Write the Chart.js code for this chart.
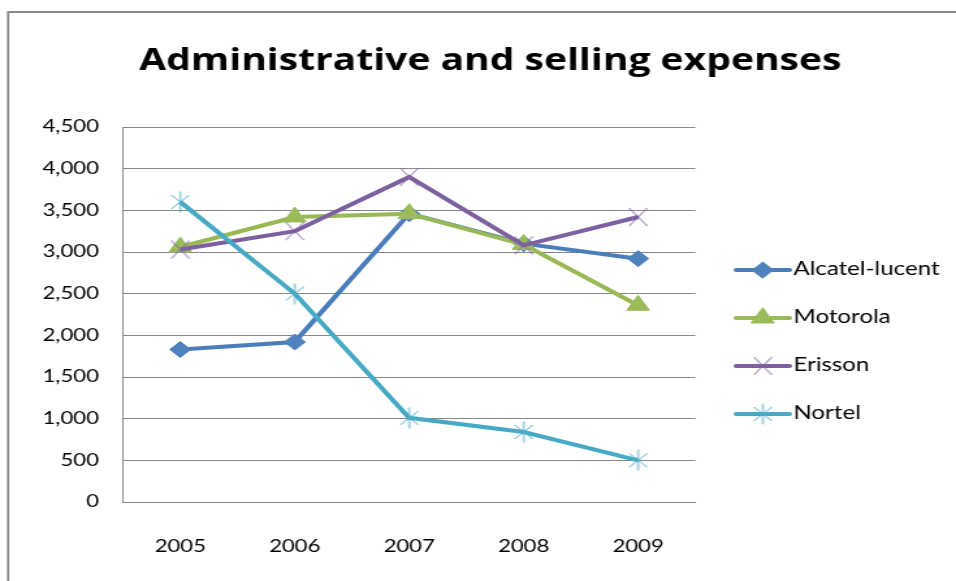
<!DOCTYPE html>
<html><head><meta charset="utf-8">
<script src="https://cdn.jsdelivr.net/npm/chart.js@4/dist/chart.umd.min.js"></script>
<style>
html,body{margin:0;padding:0;background:#fff;overflow:hidden;}
#wrap{width:735px;height:581px;transform:scaleX(1.3007);transform-origin:0 0;}
canvas{display:block}
</style></head><body>
<div id="wrap"><canvas id="c" width="735" height="581" style="width:735px;height:581px"></canvas></div>
<script>
const years = ['2005', '2006', '2007', '2008', '2009'];
const alcatel = [1830, 1920, 3460, 3100, 2920];
const motorola = [3060, 3420, 3460, 3090, 2360];
const erisson = [3030, 3250, 3900, 3080, 3420];
const nortel = [3600, 2500, 1010, 840, 500];
const seriesNames = ['Alcatel-lucent', 'Motorola', 'Erisson', 'Nortel'];
const yMin = 0, yMax = 4500, yStep = 500;
const titleText = 'Administrative and selling expenses';

function makeX(color, w, h, vertical) {
  const c = document.createElement('canvas');
  c.width = w; c.height = h;
  const g = c.getContext('2d');
  g.strokeStyle = color; g.lineWidth = 1;
  g.beginPath();
  g.moveTo(1, vertical ? 4 : 1); g.lineTo(w - 1, vertical ? h - 4 : h - 1);
  g.moveTo(w - 1, vertical ? 4 : 1); g.lineTo(1, vertical ? h - 4 : h - 1);
  if (vertical) { g.moveTo(w / 2, 0.5); g.lineTo(w / 2, h - 0.5); }
  g.stroke();
  return c;
}
const erissonMark = makeX('#8064A2', 16, 20, false);
const nortelMark = makeX('#4BACC6', 16, 22, true);

const lineColors = ['#4A7EBB', '#98B954', '#7D60A0', '#46AAC5'];
const markColors = ['#4F81BD', '#9BBB59', '#8064A2', '#4BACC6'];
const styles = ['rectRot', 'triangle', erissonMark, nortelMark];
const radii = [8, 10, 8, 8];
const values = [alcatel, motorola, erisson, nortel];

const datasets = values.map((v, i) => ({
  label: seriesNames[i],
  data: v,
  borderColor: lineColors[i],
  borderWidth: 4,
  pointStyle: styles[i],
  pointRadius: radii[i],
  pointBackgroundColor: markColors[i],
  pointBorderColor: markColors[i],
  pointBorderWidth: 1,
  tension: 0,
  order: 3 - i
}));

const decor = {
  id: 'decor',
  beforeDraw(chart) {
    const ctx = chart.ctx;
    ctx.save();
    ctx.fillStyle = '#fff';
    ctx.fillRect(0, 0, chart.width, chart.height);
    ctx.strokeStyle = '#8a8a8a';
    ctx.lineWidth = 2;
    ctx.beginPath();
    ctx.moveTo(6.2, 12); ctx.lineTo(chart.width, 12);
    ctx.stroke();
    ctx.lineWidth = 1.8;
    ctx.beginPath();
    ctx.moveTo(6.2, 11); ctx.lineTo(6.2, chart.height);
    ctx.stroke();
    ctx.restore();
  },
  afterDraw(chart) {
    const ctx = chart.ctx;
    ctx.save();
    ctx.fillStyle = '#000';
    ctx.font = 'bold 30px "Open Sans"';
    ctx.textAlign = 'center';
    ctx.textBaseline = 'alphabetic';
    ctx.fillText(titleText, 377, 70);
    // legend
    chart.data.datasets.forEach((ds, i) => {
      const y = 270 + 48 * i;
      ctx.strokeStyle = ds.borderColor;
      ctx.lineWidth = 4;
      ctx.lineCap = 'round';
      ctx.beginPath();
      ctx.moveTo(566, y); ctx.lineTo(607, y);
      ctx.stroke();
      ctx.fillStyle = ds.pointBackgroundColor;
      ctx.strokeStyle = ds.pointBorderColor;
      ctx.lineWidth = 1;
      Chart.helpers.drawPoint(ctx, {pointStyle: ds.pointStyle, radius: ds.pointRadius, borderWidth: 1, rotation: 0}, 586.5, y);
      ctx.fillStyle = '#000';
      ctx.font = '18.5px Lato';
      ctx.textAlign = 'left';
      ctx.fillText(ds.label, 610, y + 5);
    });
    ctx.restore();
  }
};

new Chart(document.getElementById('c'), {
  type: 'line',
  data: { labels: years, datasets },
  options: {
    responsive: false,
    animation: false,
    devicePixelRatio: 1,
    layout: { padding: { left: 0, right: 200.4, top: 127, bottom: 0 } },
    plugins: { legend: { display: false }, tooltip: { enabled: false }, title: { display: false } },
    scales: {
      x: {
        offset: true,
        grid: { display: false, drawTicks: false },
        border: { display: true, color: '#868686', width: 1 },
        ticks: { font: { family: 'Lato', size: 17 }, color: '#000', padding: 34 },
        afterFit(s) { s.height = 79; }
      },
      y: {
        min: yMin, max: yMax,
        grid: { color: '#868686', lineWidth: 1, drawTicks: false },
        border: { display: true, color: '#868686', width: 1 },
        ticks: {
          stepSize: yStep,
          font: { family: 'Lato', size: 17 }, color: '#000', padding: 18.6,
          callback: v => v.toLocaleString('en-US')
        },
        afterFit(s) { s.width = 94.6; }
      }
    }
  },
  plugins: [decor]
});
</script>
</body></html>
